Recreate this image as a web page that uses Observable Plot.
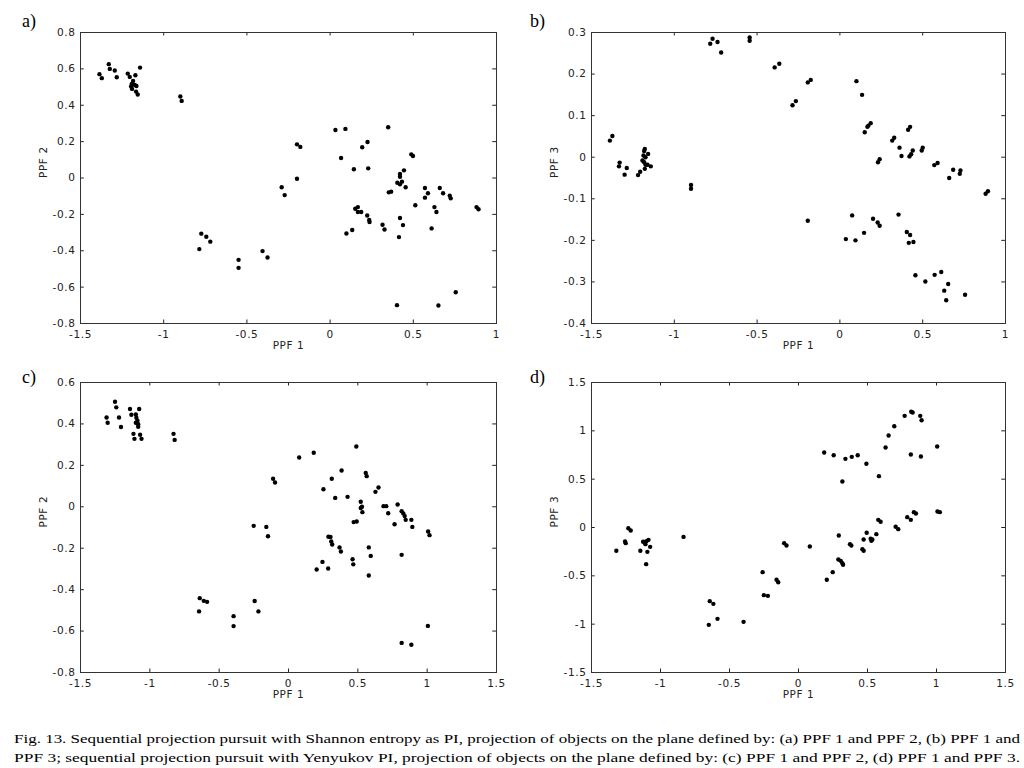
<!DOCTYPE html>
<html><head><meta charset="utf-8">
<script src="https://cdn.jsdelivr.net/npm/d3@7"></script>
<script src="https://cdn.jsdelivr.net/npm/@observablehq/plot@0.6"></script>
<style>
body{margin:0;background:#fff;}
#wrap{position:relative;width:1024px;height:768px;overflow:hidden;background:#fff;}
.panel{position:absolute;z-index:1;}
.lab{position:absolute;z-index:2;font-family:"Liberation Serif","Times New Roman",serif;font-size:18px;color:#000;line-height:1;}
.cap{position:absolute;z-index:2;left:14px;font-family:"Liberation Serif","Times New Roman",serif;font-size:13.5px;line-height:19px;color:#000;white-space:nowrap;transform-origin:0 0;}
</style></head>
<body><div id="wrap">
<div class="panel" id="pa" style="left:0;top:0"></div>
<div class="panel" id="pb" style="left:511px;top:0"></div>
<div class="panel" id="pc" style="left:0;top:350px"></div>
<div class="panel" id="pd" style="left:511px;top:350px"></div>
<div class="lab" style="left:22px;top:12px">a)</div>
<div class="lab" style="left:530px;top:12px">b)</div>
<div class="lab" style="left:22px;top:368px">c)</div>
<div class="lab" style="left:530px;top:368px">d)</div>
<div class="cap" style="top:729px">Fig. 13. Sequential projection pursuit with Shannon entropy as PI, projection of objects on the plane defined by: (a) PPF 1 and PPF 2, (b) PPF 1 and</div>
<div class="cap" style="top:748px">PPF 3; sequential projection pursuit with Yenyukov PI, projection of objects on the plane defined by: (c) PPF 1 and PPF 2, (d) PPF 1 and PPF 3.</div>
</div>
<script>
// ---- tick labels ----
const ticksX_ab = [-1.5, -1, -0.5, 0, 0.5, 1];
const ticksY_a = [-0.8, -0.6, -0.4, -0.2, 0, 0.2, 0.4, 0.6, 0.8];
const ticksY_b = [-0.4, -0.3, -0.2, -0.1, 0, 0.1, 0.2, 0.3];
const ticksX_cd = [-1.5, -1, -0.5, 0, 0.5, 1, 1.5];
const ticksY_c = [-0.8, -0.6, -0.4, -0.2, 0, 0.2, 0.4, 0.6];
const ticksY_d = [-1.5, -1, -0.5, 0, 0.5, 1, 1.5];

// ---- data: [PPF 1, PPF y] ----
const pointsA = [
[-1.386,0.571],[-1.372,0.549],[-1.33,0.626],[-1.324,0.600],[-1.294,0.591],[-1.282,0.554],
[-1.216,0.574],[-1.204,0.556],[-1.17,0.565],[-1.184,0.534],[-1.192,0.517],[-1.196,0.503],
[-1.19,0.490],[-1.174,0.512],[-1.164,0.506],[-1.166,0.475],[-1.156,0.459],[-1.142,0.607],
[-0.9,0.448],[-0.892,0.424],[-0.774,-0.306],[-0.744,-0.323],[-0.72,-0.350],[-0.786,-0.391],
[-0.55,-0.450],[-0.55,-0.494],[-0.406,-0.402],[-0.376,-0.437],
[-0.291,-0.051],[-0.273,-0.094],[-0.199,0.185],[-0.179,0.171],[-0.199,-0.004],
[0.032,0.264],[0.092,0.270],[0.066,0.110],[0.143,0.048],[0.193,0.169],[0.225,0.198],
[0.229,0.053],[0.349,0.279],[0.488,0.130],[0.498,0.121],[0.444,0.042],[0.42,0.022],
[0.42,0.007],[0.404,-0.026],[0.42,-0.035],[0.432,-0.020],[0.454,-0.051],[0.353,-0.079],
[0.367,-0.075],[0.151,-0.169],[0.167,-0.160],[0.167,-0.187],[0.187,-0.187],[0.223,-0.206],
[0.235,-0.231],[0.237,-0.242],[0.098,-0.305],[0.133,-0.286],[0.315,-0.257],[0.327,-0.283],
[0.42,-0.220],[0.438,-0.259],[0.414,-0.325],[0.512,-0.150],[0.57,-0.055],[0.588,-0.084],
[0.57,-0.108],[0.659,-0.055],[0.679,-0.084],[0.627,-0.160],[0.639,-0.187],[0.61,-0.277],
[0.719,-0.097],[0.725,-0.112],[0.88,-0.160],[0.892,-0.172],[0.755,-0.628],[0.402,-0.699],
[0.651,-0.701]
];
const pointsB = [
[-1.389,0.040],[-1.374,0.051],[-1.330,-0.013],[-1.334,-0.022],[-1.300,-0.042],[-1.287,-0.026],
[-1.219,-0.043],[-1.206,-0.035],[-1.178,0.020],[-1.182,0.015],[-1.186,0.004],[-1.158,0.008],
[-1.174,0.000],[-1.192,-0.008],[-1.182,-0.012],[-1.174,-0.018],[-1.178,-0.028],[-1.162,-0.018],
[-1.142,-0.022],[-0.899,-0.067],[-0.899,-0.076],[-0.783,0.273],[-0.769,0.285],[-0.739,0.277],
[-0.717,0.252],[-0.545,0.288],[-0.545,0.280],
[-0.394,0.216],[-0.366,0.225],[-0.286,0.125],[-0.266,0.135],[-0.194,0.180],[-0.176,0.186],
[-0.194,-0.153],[0.100,0.183],[0.134,0.150],[0.150,0.060],[0.166,0.073],[0.172,0.076],
[0.186,0.082],[0.230,-0.012],[0.240,-0.005],[0.316,0.040],[0.328,0.047],[0.360,0.023],
[0.372,0.003],[0.412,0.066],[0.424,0.073],[0.42,0.002],[0.43,0.007],[0.44,0.016],
[0.494,0.016],[0.5,0.023],[0.57,-0.019],[0.59,-0.014],[0.66,-0.050],[0.684,-0.030],
[0.724,-0.040],[0.728,-0.032],[0.88,-0.088],[0.894,-0.082],[0.074,-0.140],[0.036,-0.197],
[0.094,-0.200],[0.146,-0.182],[0.2,-0.148],[0.228,-0.157],[0.24,-0.165],[0.354,-0.138],
[0.404,-0.180],[0.424,-0.187],[0.416,-0.206],[0.444,-0.204],[0.456,-0.284],[0.516,-0.299],
[0.572,-0.283],[0.612,-0.276],[0.654,-0.305],[0.63,-0.321],[0.642,-0.344],[0.756,-0.331]
];
const pointsC = [
[-1.312,0.431],[-1.304,0.406],[-1.251,0.507],[-1.242,0.480],[-1.222,0.431],[-1.208,0.385],
[-1.143,0.472],[-1.133,0.444],[-1.101,0.446],[-1.097,0.430],[-1.089,0.415],[-1.101,0.406],
[-1.084,0.399],[-1.084,0.386],[-1.077,0.472],[-1.118,0.352],[-1.111,0.328],[-1.070,0.348],
[-1.060,0.328],[-0.829,0.352],[-0.821,0.323],[-0.640,-0.441],[-0.611,-0.454],[-0.587,-0.459],
[-0.645,-0.505],[-0.396,-0.528],[-0.396,-0.576],[-0.251,-0.092],[-0.160,-0.097],[-0.148,-0.142],
[-0.244,-0.455],[-0.217,-0.505],
[-0.111,0.135],[-0.097,0.117],[0.077,0.238],[0.182,0.261],[0.489,0.291],[0.383,0.175],
[0.312,0.135],[0.252,0.085],[0.337,0.043],[0.426,0.048],[0.557,0.163],[0.564,0.148],
[0.627,0.072],[0.649,0.093],[0.521,0.024],[0.530,0.000],[0.521,-0.006],[0.533,-0.026],
[0.470,-0.074],[0.492,-0.071],[0.685,0.003],[0.705,0.003],[0.719,-0.031],[0.787,0.011],
[0.816,-0.021],[0.828,-0.032],[0.838,-0.045],[0.845,-0.063],[0.765,-0.084],[0.886,-0.063],
[0.893,-0.097],[1.007,-0.119],[1.017,-0.137],[0.288,-0.145],[0.303,-0.146],[0.308,-0.167],
[0.315,-0.182],[0.368,-0.196],[0.378,-0.216],[0.579,-0.196],[0.593,-0.237],[0.816,-0.232],
[0.245,-0.266],[0.203,-0.303],[0.286,-0.298],[0.462,-0.253],[0.467,-0.278],[0.579,-0.332],
[1.005,-0.575],[0.816,-0.657],[0.886,-0.666]
];
const pointsD = [
[-1.320,-0.241],[-1.257,-0.145],[-1.252,-0.162],[-1.233,-0.007],[-1.216,-0.031],[-1.146,-0.241],
[-1.126,-0.148],[-1.114,-0.155],[-1.102,-0.141],[-1.087,-0.128],[-1.109,-0.172],[-1.095,-0.252],
[-1.075,-0.200],[-1.104,-0.379],[-0.833,-0.097],[-0.643,-0.762],[-0.617,-0.790],[-0.587,-0.945],
[-0.650,-1.007],[-0.398,-0.976],
[-0.260,-0.462],[-0.251,-0.700],[-0.222,-0.707],[-0.159,-0.541],[-0.147,-0.566],[-0.104,-0.162],
[-0.087,-0.186],[0.082,-0.197],[0.186,0.776],[0.255,0.748],[0.340,0.710],[0.386,0.731],
[0.429,0.748],[0.492,0.659],[0.318,0.476],[0.583,0.531],[0.631,0.828],[0.653,0.952],
[0.694,1.048],[0.769,1.155],[0.817,1.197],[0.827,1.190],[0.882,1.155],[0.892,1.110],
[0.814,0.755],[0.887,0.734],[1.005,0.838],[0.205,-0.541],[0.248,-0.462],[0.289,-0.331],
[0.306,-0.345],[0.318,-0.369],[0.323,-0.386],[0.292,-0.083],[0.373,-0.172],[0.383,-0.186],
[0.463,-0.224],[0.472,-0.241],[0.472,-0.124],[0.494,-0.055],[0.523,-0.117],[0.528,-0.138],
[0.535,-0.124],[0.564,-0.069],[0.578,0.079],[0.595,0.059],[0.704,0.007],[0.723,-0.017],
[0.788,0.107],[0.814,0.079],[0.836,0.159],[0.851,0.145],[1.007,0.166],[1.024,0.159]
];

const fmt = d => String(d);
function panel(id, pts, xTicks, yTicks, xLabel, yLabel, mr, mb) {
  const xd = [xTicks[0], xTicks[xTicks.length - 1]];
  const yd = [yTicks[0], yTicks[yTicks.length - 1]];
  const tx = (xd[1] - xd[0]) * 0.009, ty = (yd[1] - yd[0]) * 0.012;
  const tickStyle = {stroke: "#222", strokeWidth: 1};
  const chart = Plot.plot({
    width: 512, height: 360,
    marginLeft: 80, marginRight: mr, marginTop: 32, marginBottom: mb,
    x: {domain: xd}, y: {domain: yd},
    style: {fontFamily: "'DejaVu Sans', Verdana, sans-serif", fontSize: "10.5px", color: "#222", letterSpacing: "0.6px", background: "transparent"},
    marks: [
      Plot.ruleX(xTicks, {x: d => d, y1: yd[0], y2: yd[0] + ty, ...tickStyle}),
      Plot.ruleX(xTicks, {x: d => d, y1: yd[1] - ty, y2: yd[1], ...tickStyle}),
      Plot.ruleY(yTicks, {y: d => d, x1: xd[0], x2: xd[0] + tx, ...tickStyle}),
      Plot.ruleY(yTicks, {y: d => d, x1: xd[1] - tx, x2: xd[1], ...tickStyle}),
      Plot.frame({stroke: "#333", strokeWidth: 1}),
      Plot.axisX(xTicks, {tickSize: 0, tickPadding: 7, tickFormat: fmt, label: null}),
      Plot.axisY(yTicks, {tickSize: 0, tickPadding: 5, tickFormat: fmt, label: null}),
      Plot.text([xLabel], {frameAnchor: "bottom", dy: 25, text: d => d, fill: "#222"}),
      Plot.text([yLabel], {frameAnchor: "left", dx: -37, rotate: -90, text: d => d, fill: "#222"}),
      Plot.dot(pts, {x: d => d[0], y: d => d[1], r: 2.2, fill: "#000", stroke: "none"})
    ]
  });
  document.getElementById(id).appendChild(chart);
}
panel("pa", pointsA, ticksX_ab, ticksY_a, "PPF 1", "PPF 2", 16, 37);
panel("pb", pointsB, ticksX_ab, ticksY_b, "PPF 1", "PPF 3", 18, 37);
panel("pc", pointsC, ticksX_cd, ticksY_c, "PPF 1", "PPF 2", 16, 38);
panel("pd", pointsD, ticksX_cd, ticksY_d, "PPF 1", "PPF 3", 18, 38);

// stretch each caption line to span the page width, as in the printed figure
document.querySelectorAll(".cap").forEach(el => {
  const w = el.getBoundingClientRect().width;
  if (w > 0) el.style.transform = `scaleX(${1006 / w})`;
});
</script>
</body></html>
